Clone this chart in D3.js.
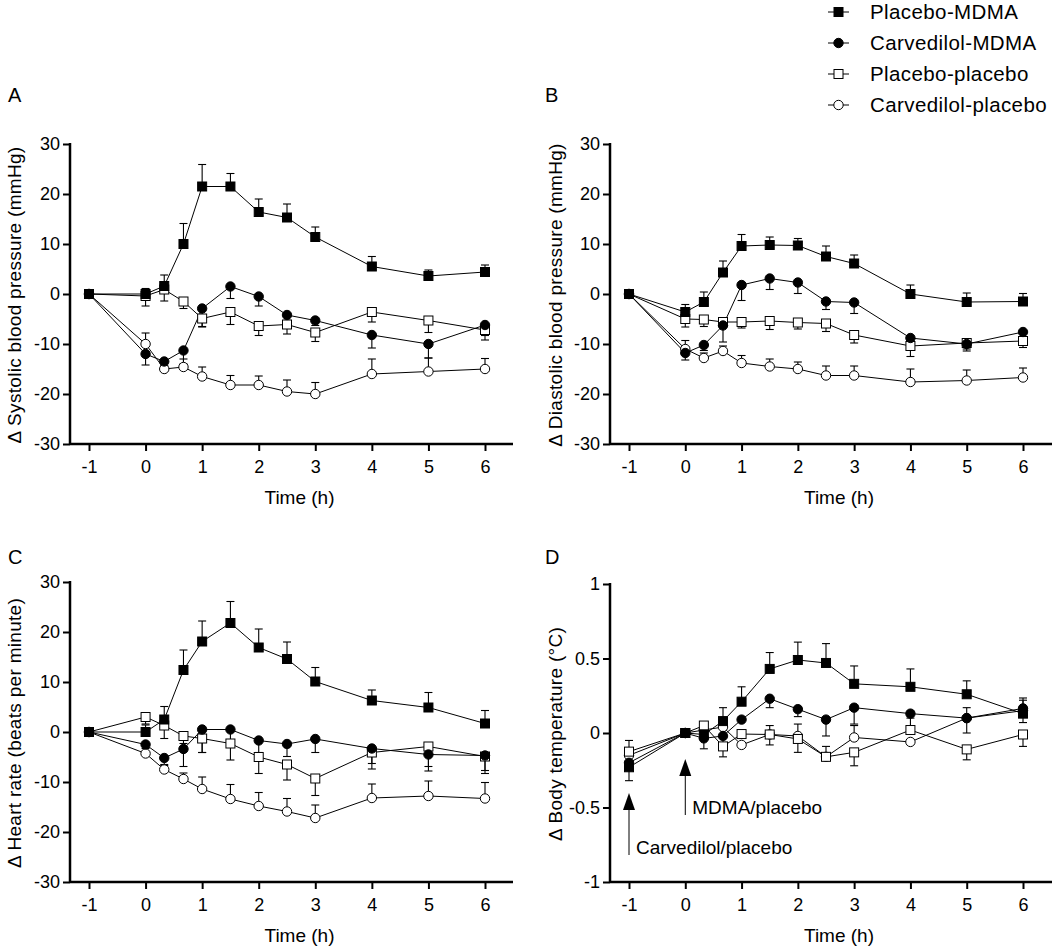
<!DOCTYPE html>
<html><head><meta charset="utf-8">
<script src="https://cdn.jsdelivr.net/npm/d3@7"></script>
<style>body{margin:0;background:#fff}svg{display:block}text{font-family:"Liberation Sans",Arial,sans-serif;fill:#000}</style>
</head><body><svg id="c" width="1064" height="949"></svg>
<script>
const times = [-1, 0, 0.33, 0.67, 1, 1.5, 2, 2.5, 3, 4, 5, 6];
const seriesNames = ["Placebo-MDMA", "Carvedilol-MDMA", "Placebo-placebo", "Carvedilol-placebo"];
const xTicks = [-1, 0, 1, 2, 3, 4, 5, 6];
const bpTicks = [-30, -20, -10, 0, 10, 20, 30];
const tempTicks = [-1, -0.5, 0, 0.5, 1];

// Panel A: systolic BP (value, signed SEM: + drawn up, - drawn down)
const sbpPlaceboMDMA = [0, 0, 1.6, 10, 21.5, 21.5, 16.4, 15.3, 11.4, 5.5, 3.6, 4.4];
const sbpPlaceboMDMAErr = [0, 1.1, 2.2, 4.1, 4.4, 2.6, 2.6, 2.7, 2, 2, 1.2, 1.4];
const sbpCarvMDMA = [0, -12, -13.5, -11.3, -2.9, 1.5, -0.5, -4.2, -5.3, -8.2, -10, -6.2];
const sbpCarvMDMAErr = [0, -2.2, -1.5, -2.7, -3.7, -2.4, -1.9, -1.1, -1, -2.6, -2.8, -2.1];
const sbpPlaceboPlacebo = [0, -0.4, 0.9, -1.5, -4.9, -3.6, -6.4, -6.1, -7.7, -3.6, -5.3, -7.2];
const sbpPlaceboPlaceboErr = [0, -2, -2.3, -1.4, -1.6, -2.5, -1.9, -1.9, -1.8, -2, -2.4, -2];
const sbpCarvPlacebo = [0, -10, -15, -14.6, -16.5, -18.2, -18.2, -19.5, -20, -16, -15.5, -15];
const sbpCarvPlaceboErr = [0, 2.2, 0.7, 1.6, 1.9, 1.9, 1.8, 2.3, 2.3, 3, 2.7, 2.1];

// Panel B: diastolic BP
const dbpPlaceboMDMA = [0, -3.6, -1.6, 4.3, 9.6, 9.8, 9.7, 7.5, 6.1, 0, -1.6, -1.5];
const dbpPlaceboMDMAErr = [0, 1.5, 2, 2.3, 2.3, 1.6, 1.4, 2.1, 1.7, 1.8, 1.8, 1.6];
const dbpCarvMDMA = [0, -11.8, -10.2, -6.3, 1.8, 3.1, 2.3, -1.5, -1.7, -8.8, -10, -7.6];
const dbpCarvMDMAErr = [0, -1.4, -1.1, -3.3, -3.1, -2.2, -2.2, -1.6, -2.2, -1.2, -1.4, -1];
const dbpPlaceboPlacebo = [0, -5, -5.1, -5.6, -5.6, -5.4, -5.7, -5.9, -8.2, -10.4, -9.8, -9.4];
const dbpPlaceboPlaceboErr = [0, -1.6, -1.4, -1, -1.2, -1.7, -1.3, -1.6, -1.6, -2.1, -1.2, -1.3];
const dbpCarvPlacebo = [0, -11, -12.8, -11.4, -13.8, -14.5, -15, -16.3, -16.3, -17.6, -17.3, -16.7];
const dbpCarvPlaceboErr = [0, 1.7, 1, 1, 1.5, 1.5, 1.4, 1.9, 1.9, 2.6, 2.1, 1.9];

// Panel C: heart rate
const hrPlaceboMDMA = [0, 0, 2.5, 12.4, 18.1, 21.8, 16.9, 14.6, 10.1, 6.3, 4.9, 1.7];
const hrPlaceboMDMAErr = [0, 1.4, 2.6, 4, 4.1, 4.3, 3.7, 3.4, 2.8, 2.1, 3, 2.6];
const hrCarvMDMA = [0, -2.5, -5.2, -3.4, 0.5, 0.5, -1.7, -2.4, -1.4, -3.3, -4.5, -4.7];
const hrCarvMDMAErr = [0, -1.5, -1.5, -3.5, -4.6, -2.5, -2.4, -2.5, -2.7, -3, -3.3, -3.6];
const hrPlaceboPlacebo = [0, 3, 1.3, -0.8, -1.3, -2.3, -5, -6.5, -9.3, -4.1, -2.9, -4.9];
const hrPlaceboPlaceboErr = [0, -1.4, -2.6, -1.5, -2.8, -3.3, -3.3, -3.1, -3.4, -3.3, -4, -2.8];
const hrCarvPlacebo = [0, -4.3, -7.5, -9.4, -11.4, -13.4, -14.8, -15.9, -17.2, -13.2, -12.8, -13.3];
const hrCarvPlaceboErr = [0, 1, 1, 1.2, 2.4, 2.9, 2.7, 2.6, 2.6, 2.8, 3, 3.2];

// Panel D: body temperature
const tPlaceboMDMA = [-0.23, 0, -0.01, 0.08, 0.21, 0.43, 0.49, 0.47, 0.33, 0.31, 0.26, 0.13];
const tPlaceboMDMAErr = [-0.09, 0, 0, 0.09, 0.1, 0.11, 0.12, 0.13, 0.12, 0.12, 0.09, -0.06];
const tCarvMDMA = [-0.2, 0, -0.036, -0.02, 0.09, 0.23, 0.16, 0.09, 0.17, 0.13, 0.1, 0.165];
const tCarvMDMAErr = [0, 0, -0.07, -0.05, 0, -0.06, -0.05, -0.11, -0.11, 0, -0.1, 0.07];
const tPlaceboPlacebo = [-0.125, 0, 0.05, -0.09, -0.007, -0.01, -0.04, -0.16, -0.13, 0.02, -0.11, -0.01];
const tPlaceboPlaceboErr = [0, 0, -0.06, -0.07, 0, -0.07, -0.09, 0, -0.09, 0.08, -0.07, -0.08];
const tCarvPlacebo = [-0.15, 0, 0.02, 0.04, -0.08, -0.01, -0.02, -0.16, -0.03, -0.06, 0.1, 0.15];
const tCarvPlaceboErr = [0.1, 0, 0, 0, 0, 0.06, 0.08, 0.07, 0.08, 0, 0.07, 0.07];

const svg = d3.select("#c");
const markers = ["fsq", "fci", "osq", "oci"];

function drawMarker(g, type, x, y) {
  if (type === "fsq" || type === "osq") {
    g.append("rect").attr("x", x - 4.5).attr("y", y - 4.5).attr("width", 9).attr("height", 9)
      .attr("fill", type === "fsq" ? "#000" : "#fff").attr("stroke", "#000").attr("stroke-width", 1);
  } else {
    g.append("circle").attr("cx", x).attr("cy", y).attr("r", 4.7)
      .attr("fill", type === "fci" ? "#000" : "#fff").attr("stroke", "#000").attr("stroke-width", 1);
  }
}

function panel(cfg) {
  const g = svg.append("g");
  const x = d3.scaleLinear().domain([-1, 6]).range([cfg.x0, cfg.x6]);
  const y = d3.scaleLinear().domain(cfg.yDomain).range([cfg.yBottom, cfg.yTop]);
  const fmt = d => String(d);
  const yAxis = d3.axisLeft(y).tickValues(cfg.yTicks).tickSize(7).tickPadding(3).tickFormat(fmt);
  const ya = g.append("g").attr("transform", `translate(${cfg.axisX},0)`).call(yAxis);
  const xAxis = d3.axisBottom(x).tickValues(xTicks).tickSize(7).tickPadding(9).tickFormat(fmt);
  const xa = g.append("g").attr("transform", `translate(0,${cfg.yBottom})`).call(xAxis);
  [ya, xa].forEach(a => {
    a.select(".domain").remove();
    a.selectAll(".tick line").attr("stroke", "#000").attr("stroke-width", 2);
    a.selectAll(".tick text").attr("font-size", 18).attr("font-family", '"Liberation Sans",Arial,sans-serif').attr("fill", "#000");
  });
  g.append("line").attr("x1", cfg.axisX).attr("x2", cfg.axisX).attr("y1", cfg.yTop - 1).attr("y2", cfg.yBottom + 1)
    .attr("stroke", "#000").attr("stroke-width", 2.5);
  g.append("line").attr("x1", cfg.axisX).attr("x2", cfg.xEnd).attr("y1", cfg.yBottom).attr("y2", cfg.yBottom)
    .attr("stroke", "#000").attr("stroke-width", 2.5);
  g.append("text").attr("x", (cfg.axisX + cfg.xEnd) / 2 + 8).attr("y", cfg.yBottom + 60)
    .attr("text-anchor", "middle").attr("font-size", 19).text("Time (h)");
  g.append("text").attr("transform", `translate(${cfg.titleX},${(cfg.yTop + cfg.yBottom) / 2 + 1}) rotate(-90)`)
    .attr("text-anchor", "middle").attr("font-size", 19).attr("letter-spacing", 0.3).text(cfg.yTitle);
  g.append("text").attr("x", cfg.letterX).attr("y", cfg.letterY).attr("font-size", 20).text(cfg.letter);

  const line = d3.line().x((d, i) => x(times[i])).y(d => y(d));
  cfg.series.forEach(s => {
    s.vals.forEach((v, i) => {
      const e = s.err[i];
      if (!e) return;
      const px = x(times[i]);
      g.append("line").attr("x1", px).attr("x2", px).attr("y1", y(v)).attr("y2", y(v + e)).attr("stroke", "#000").attr("stroke-width", 1.1);
      g.append("line").attr("x1", px - 4).attr("x2", px + 4).attr("y1", y(v + e)).attr("y2", y(v + e)).attr("stroke", "#000").attr("stroke-width", 1.1);
    });
  });
  cfg.series.forEach(s => {
    g.append("path").attr("d", line(s.vals)).attr("fill", "none").attr("stroke", "#000").attr("stroke-width", 1);
  });
  [3, 2, 1, 0].forEach(k => {
    cfg.series[k].vals.forEach((v, i) => drawMarker(g, markers[k], x(times[i]), y(v)));
  });
  return { g, x, y };
}

panel({ letter: "A", letterX: 8, letterY: 102, axisX: 70, xEnd: 513, x0: 89, x6: 485, yTop: 144, yBottom: 444,
  yDomain: [-30, 30], yTicks: bpTicks, titleX: 21, yTitle: "\u0394 Systolic blood pressure (mmHg)",
  series: [{ vals: sbpPlaceboMDMA, err: sbpPlaceboMDMAErr }, { vals: sbpCarvMDMA, err: sbpCarvMDMAErr },
    { vals: sbpPlaceboPlacebo, err: sbpPlaceboPlaceboErr }, { vals: sbpCarvPlacebo, err: sbpCarvPlaceboErr }] });

panel({ letter: "B", letterX: 545, letterY: 102, axisX: 610, xEnd: 1052, x0: 629, x6: 1023, yTop: 144, yBottom: 444,
  yDomain: [-30, 30], yTicks: bpTicks, titleX: 562, yTitle: "\u0394 Diastolic blood pressure (mmHg)",
  series: [{ vals: dbpPlaceboMDMA, err: dbpPlaceboMDMAErr }, { vals: dbpCarvMDMA, err: dbpCarvMDMAErr },
    { vals: dbpPlaceboPlacebo, err: dbpPlaceboPlaceboErr }, { vals: dbpCarvPlacebo, err: dbpCarvPlaceboErr }] });

panel({ letter: "C", letterX: 8, letterY: 564, axisX: 70, xEnd: 513, x0: 89, x6: 485, yTop: 582, yBottom: 882,
  yDomain: [-30, 30], yTicks: bpTicks, titleX: 21, yTitle: "\u0394 Heart rate (beats per minute)",
  series: [{ vals: hrPlaceboMDMA, err: hrPlaceboMDMAErr }, { vals: hrCarvMDMA, err: hrCarvMDMAErr },
    { vals: hrPlaceboPlacebo, err: hrPlaceboPlaceboErr }, { vals: hrCarvPlacebo, err: hrCarvPlaceboErr }] });

const pD = panel({ letter: "D", letterX: 545, letterY: 564, axisX: 610, xEnd: 1052, x0: 629, x6: 1023, yTop: 584, yBottom: 882,
  yDomain: [-1, 1], yTicks: tempTicks, titleX: 562, yTitle: "\u0394 Body temperature (\u00B0C)",
  series: [{ vals: tPlaceboMDMA, err: tPlaceboMDMAErr }, { vals: tCarvMDMA, err: tCarvMDMAErr },
    { vals: tPlaceboPlacebo, err: tPlaceboPlaceboErr }, { vals: tCarvPlacebo, err: tCarvPlaceboErr }] });

const annotations = [
  { t: -1, label: "Carvedilol/placebo", tip: 793, bottom: 855 },
  { t: 0, label: "MDMA/placebo", tip: 759, bottom: 815 }
];
annotations.forEach(a => {
  const ax = pD.x(a.t);
  pD.g.append("line").attr("x1", ax).attr("x2", ax).attr("y1", a.tip + 14).attr("y2", a.bottom).attr("stroke", "#000").attr("stroke-width", 1);
  pD.g.append("path").attr("d", `M${ax},${a.tip} L${ax - 6},${a.tip + 17} L${ax + 6},${a.tip + 17} Z`).attr("fill", "#000");
  pD.g.append("text").attr("x", ax + 7).attr("y", a.bottom - 1).attr("font-size", 19).text(a.label);
});

const leg = svg.append("g");
seriesNames.forEach((n, k) => {
  const yy = 12 + k * 31;
  leg.append("line").attr("x1", 828).attr("x2", 849).attr("y1", yy).attr("y2", yy).attr("stroke", "#000").attr("stroke-width", 1);
  drawMarker(leg, markers[k], 838.5, yy);
  leg.append("text").attr("x", 870).attr("y", yy + 7).attr("font-size", 20.5).attr("letter-spacing", 0.4).text(n);
});
</script></body></html>
